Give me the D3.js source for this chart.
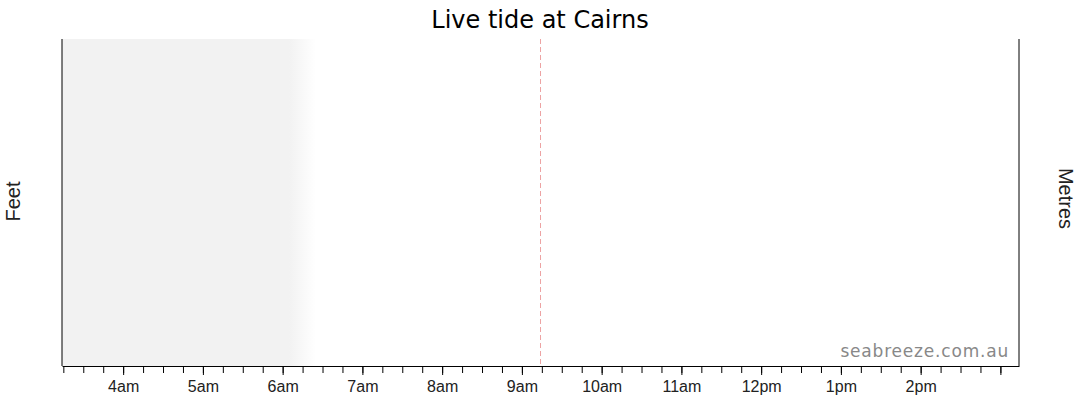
<!DOCTYPE html>
<html>
<head>
<meta charset="utf-8">
<script src="https://cdn.jsdelivr.net/npm/d3@7"></script>
<style>
  body { margin: 0; background: #fff; }
  svg { display: block; }
</style>
</head>
<body>
<div id="chart"></div>
<script>
// chart window: six hours either side of "now"
const chartTitle = 'Live tide at Cairns';
const timeDomain = ['03:14', '15:14'];
const nowTime = '09:14';
// night until sunrise, shading fades out between these two times
const nightFade = ['06:05', '06:25'];
const hourTickLabels = ['4am', '5am', '6am', '7am', '8am', '9am', '10am', '11am', '12pm', '1pm', '2pm', ''];
const axisTitles = ['Feet', 'Metres'];
const watermark = 'seabreeze.com.au';

const width = 1080;
const height = 414;
let margin = { top: 39, right: 61, bottom: 48, left: 62 };
const plotW = width - margin.left - margin.right;
const plotH = height - margin.top - margin.bottom;

const parseTime = s => d3.timeParse('%Y-%m-%d %H:%M')('2024-05-20 ' + s);

const x = d3.scaleTime()
  .domain(timeDomain.map(parseTime))
  .range([0, plotW]);

const svg = d3.select('#chart')
  .append('svg')
  .attr('width', width)
  .attr('height', height);

const defs = svg.append('defs');
const grad = defs.append('linearGradient')
  .attr('id', 'night-fade')
  .attr('gradientUnits', 'userSpaceOnUse')
  .attr('x1', x(parseTime(nightFade[0])))
  .attr('x2', x(parseTime(nightFade[1])))
  .attr('y1', 0).attr('y2', 0);
grad.append('stop').attr('offset', 0).attr('stop-color', '#f2f2f2');
grad.append('stop').attr('offset', 1).attr('stop-color', '#f2f2f2').attr('stop-opacity', 0);

const g = svg.append('g')
  .attr('transform', 'translate(' + margin.left + ',' + margin.top + ')');

// night shading
g.append('rect')
  .attr('x', x(parseTime(timeDomain[0])))
  .attr('y', 0)
  .attr('width', x(parseTime(nightFade[1])) - x(parseTime(timeDomain[0])))
  .attr('height', plotH)
  .attr('fill', 'url(#night-fade)');

// current time marker
g.append('line')
  .attr('x1', x(parseTime(nowTime)))
  .attr('x2', x(parseTime(nowTime)))
  .attr('y1', 0)
  .attr('y2', plotH)
  .attr('stroke', '#eda3a3')
  .attr('stroke-width', 1)
  .attr('stroke-dasharray', '5,3');

// watermark
g.append('text')
  .attr('x', plotW - 10)
  .attr('y', plotH - 9)
  .attr('text-anchor', 'end')
  .attr('font-family', 'DejaVu Sans, Verdana, sans-serif')
  .attr('font-size', 17)
  .attr('letter-spacing', 0.8)
  .attr('fill', '#888')
  .text(watermark);

// minor ticks every 15 minutes
g.append('g')
  .attr('transform', 'translate(0,' + plotH + ')')
  .call(d3.axisBottom(x)
    .ticks(d3.timeMinute.every(15))
    .tickSize(6)
    .tickSizeOuter(0)
    .tickFormat(''))
  .call(a => a.select('.domain').remove())
  .call(a => a.selectAll('line').attr('transform', 'translate(0,1)').attr('stroke', '#000'));

// hour ticks with labels
const hourTicks = d3.timeHour.every(1).range(...x.domain());
g.append('g')
  .attr('transform', 'translate(0,' + plotH + ')')
  .call(d3.axisBottom(x)
    .tickValues(hourTicks)
    .tickSize(9)
    .tickPadding(6)
    .tickSizeOuter(0)
    .tickFormat((d, i) => hourTickLabels[i]))
  .call(a => a.selectAll('text')
    .attr('font-family', 'Liberation Sans, Arial, sans-serif')
    .attr('font-size', 16)
    .attr('fill', '#222'))
  .call(a => a.selectAll('line,path').attr('stroke', '#000'));

// left and right axis lines
g.append('line')
  .attr('x1', 0).attr('x2', 0)
  .attr('y1', 0).attr('y2', plotH)
  .attr('stroke', '#000');
g.append('line')
  .attr('x1', plotW).attr('x2', plotW)
  .attr('y1', 0).attr('y2', plotH)
  .attr('stroke', '#000');

// title
svg.append('text')
  .attr('x', width / 2)
  .attr('y', 28)
  .attr('text-anchor', 'middle')
  .attr('font-family', 'DejaVu Sans, Tahoma, sans-serif')
  .attr('font-size', 24)
  .attr('fill', '#000')
  .text(chartTitle);

// axis titles
svg.append('text')
  .attr('transform', 'translate(20,' + (margin.top + plotH / 2 - 1) + ') rotate(-90)')
  .attr('text-anchor', 'middle')
  .attr('font-family', 'Liberation Sans, Arial, sans-serif')
  .attr('font-size', 20)
  .attr('fill', '#222')
  .text(axisTitles[0]);
svg.append('text')
  .attr('transform', 'translate(1059,' + (margin.top + plotH / 2 - 4) + ') rotate(90)')
  .attr('text-anchor', 'middle')
  .attr('font-family', 'Liberation Sans, Arial, sans-serif')
  .attr('font-size', 20)
  .attr('fill', '#222')
  .text(axisTitles[1]);
</script>
</body>
</html>
